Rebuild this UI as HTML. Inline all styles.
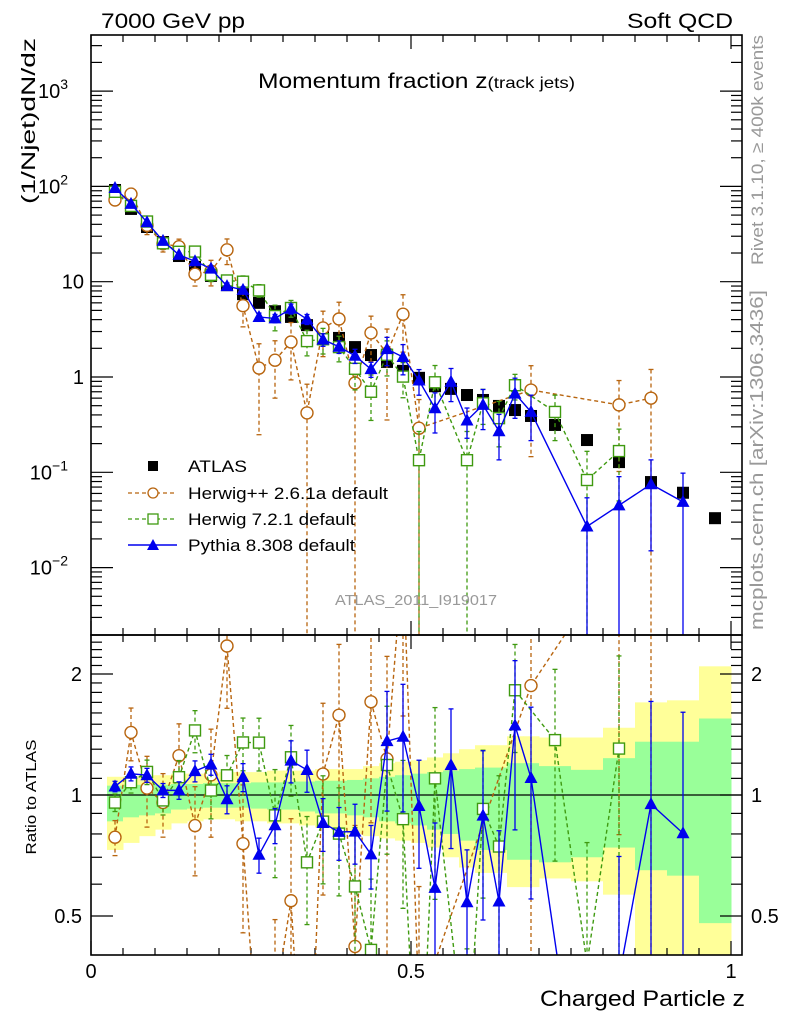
<!DOCTYPE html>
<html><head><meta charset="utf-8"><style>
html,body{margin:0;padding:0;background:#fff;width:786px;height:1024px;overflow:hidden;}
svg{display:block;font-family:"Liberation Sans",sans-serif;}
</style></head><body>
<svg id="chart" width="786" height="1024" viewBox="0 0 786 1024" xmlns="http://www.w3.org/2000/svg">
<defs>
<clipPath id="clipMain"><rect x="91" y="35" width="651" height="600"/></clipPath>
<clipPath id="clipRatio"><rect x="91" y="635" width="651" height="320"/></clipPath>
</defs>
<g id="bands" clip-path="url(#clipRatio)"></g>
<g id="ticks"></g>
<line x1="91" y1="795" x2="742" y2="795" stroke="#000" stroke-width="1.3"/>
<g id="mainMarks" clip-path="url(#clipMain)"></g>
<g id="ratioMarks" clip-path="url(#clipRatio)"></g>
<rect x="91" y="35" width="651" height="600" fill="none" stroke="#000" stroke-width="1.6"/>
<rect x="91" y="635" width="651" height="320" fill="none" stroke="#000" stroke-width="1.6"/>
<text x="101" y="28" font-size="21" textLength="144" lengthAdjust="spacingAndGlyphs">7000 GeV pp</text>
<text x="627" y="28" font-size="21" textLength="106" lengthAdjust="spacingAndGlyphs">Soft QCD</text>
<text x="258" y="88" font-size="21" textLength="317" lengthAdjust="spacingAndGlyphs">Momentum fraction z<tspan font-size="16">(track jets)</tspan></text>
<text transform="translate(35,121) rotate(-90)" font-size="19" text-anchor="middle" textLength="166" lengthAdjust="spacingAndGlyphs">(1/Njet)dN/dz</text>
<text transform="translate(36,797) rotate(-90)" font-size="15" text-anchor="middle" textLength="115" lengthAdjust="spacingAndGlyphs">Ratio to ATLAS</text>
<text x="540" y="1006" font-size="22" textLength="205" lengthAdjust="spacingAndGlyphs">Charged Particle z</text>
<text transform="translate(763,150) rotate(-90)" font-size="17" fill="#999" text-anchor="middle" textLength="230" lengthAdjust="spacingAndGlyphs">Rivet 3.1.10, ≥ 400k events</text>
<text transform="translate(763,460) rotate(-90)" font-size="18" fill="#999" text-anchor="middle" textLength="340" lengthAdjust="spacingAndGlyphs">mcplots.cern.ch [arXiv:1306.3436]</text>
<text x="335" y="605" font-size="15" fill="#999" textLength="162" lengthAdjust="spacingAndGlyphs">ATLAS_2011_I919017</text>
<g id="legend">
  <g>
    <rect x="148" y="461" width="10" height="10" fill="#000"/>
    <text x="188" y="472" font-size="17" textLength="59" lengthAdjust="spacingAndGlyphs">ATLAS</text>
  </g>
  <g>
    <line x1="128" y1="493" x2="177" y2="493" stroke="#b8650f" stroke-width="1.2" stroke-dasharray="4,3"/>
    <circle cx="153" cy="493" r="5" fill="#fff" stroke="#b8650f" stroke-width="1.3"/>
    <text x="188" y="499" font-size="17" textLength="200" lengthAdjust="spacingAndGlyphs">Herwig++ 2.6.1a default</text>
  </g>
  <g>
    <line x1="128" y1="519" x2="177" y2="519" stroke="#3f9a10" stroke-width="1.2" stroke-dasharray="4,3"/>
    <rect x="148" y="514" width="10" height="10" fill="#fff" stroke="#3f9a10" stroke-width="1.3"/>
    <text x="188" y="525" font-size="17" textLength="167" lengthAdjust="spacingAndGlyphs">Herwig 7.2.1 default</text>
  </g>
  <g>
    <line x1="128" y1="545" x2="177" y2="545" stroke="#0000ee" stroke-width="1.4"/>
    <polygon points="153,539 159,550 147,550" fill="#0000ee"/>
    <text x="188" y="551" font-size="17" textLength="167" lengthAdjust="spacingAndGlyphs">Pythia 8.308 default</text>
  </g>
</g>
</svg>
<script>
const binCenters=[0.0375,0.0625,0.0875,0.1125,0.1375,0.1625,0.1875,0.2125,0.2375,0.2625,0.2875,0.3125,0.3375,0.3625,0.3875,0.4125,0.4375,0.4625,0.4875,0.5125,0.5375,0.5625,0.5875,0.6125,0.6375,0.6625,0.6875,0.725,0.775,0.825,0.875,0.925,0.975];
const binEdges=[0.025,0.05,0.075,0.1,0.125,0.15,0.175,0.2,0.225,0.25,0.275,0.3,0.325,0.35,0.375,0.4,0.425,0.45,0.475,0.5,0.525,0.55,0.575,0.6,0.625,0.65,0.675,0.7,0.75,0.8,0.85,0.9,0.95,1.0];
const atlas=[91.7,58,37.5,26.1,18.6,14.3,11.5,9.2,7.4,6.0,4.9,4.27,3.5,2.9,2.57,2.06,1.70,1.44,1.16,0.98,0.80,0.75,0.647,0.574,0.497,0.45,0.39,0.314,0.218,0.128,0.079,0.061,0.033];
const herwigpp=[72,83,39,25,23.3,12,12.9,21.6,5.6,1.24,1.5,2.33,0.42,3.27,4.06,0.865,2.9,1.77,4.56,0.29,null,null,null,null,null,null,0.73,null,null,0.51,0.6,null,null];
const herwigppErr=[0.1,0.15,0.2,0.18,0.2,0.25,0.3,0.3,0.4,0.8,0.6,0.6,1,0.5,0.5,1,0.5,0.8,0.6,1,0,0,0,0,0,0,0.8,0,0,0.8,1,0,0];
const herwig7=[87.8,62.4,42.8,25.3,20.6,20.7,11.8,10.3,10.0,8.1,4.36,5.3,2.38,2.49,2.06,1.22,0.70,1.71,1.01,0.134,0.88,null,0.134,0.53,0.37,0.82,null,0.43,0.083,0.167,null,null,null];
const herwig7Err=[0.05,0.06,0.07,0.08,0.1,0.12,0.15,0.12,0.15,0.15,0.3,0.2,0.3,0.3,0.3,0.4,0.5,0.4,0.4,1,0.5,0,1,0.4,0.5,0.3,0,0.5,1,0.7,0,0,0];
const pythia=[96.3,65.5,42,26.8,19.1,16.4,13.7,8.98,8.2,4.26,4.12,5.2,4.04,2.47,2.08,1.67,1.21,1.96,1.62,0.92,0.47,0.89,0.35,0.51,0.27,0.67,0.43,null,0.027,0.045,0.075,0.049,null];
const pythiaErr=[0.03,0.04,0.04,0.04,0.05,0.06,0.06,0.08,0.08,0.1,0.1,0.12,0.12,0.15,0.15,0.17,0.18,0.33,0.35,0.3,0.45,0.38,0.35,0.45,0.5,0.45,0.5,0,1,1,0.8,1,0];
const greenHi=[1.055,1.06,1.06,1.06,1.065,1.065,1.07,1.07,1.07,1.075,1.075,1.08,1.08,1.085,1.085,1.09,1.10,1.11,1.12,1.13,1.14,1.15,1.16,1.17,1.17,1.20,1.20,1.18,1.155,1.235,1.357,1.357,1.55];
const greenLo=[0.86,0.88,0.89,0.90,0.92,0.925,0.93,0.93,0.93,0.925,0.92,0.92,0.91,0.90,0.90,0.89,0.88,0.86,0.85,0.84,0.82,0.80,0.77,0.73,0.73,0.69,0.69,0.68,0.70,0.74,0.65,0.63,0.48];
const yellowHi=[1.11,1.11,1.12,1.12,1.13,1.13,1.13,1.14,1.14,1.14,1.15,1.15,1.15,1.16,1.16,1.16,1.18,1.2,1.21,1.22,1.24,1.27,1.3,1.33,1.33,1.4,1.4,1.39,1.39,1.47,1.7,1.72,2.09];
const yellowLo=[0.73,0.76,0.79,0.82,0.85,0.86,0.87,0.87,0.86,0.86,0.85,0.85,0.84,0.83,0.82,0.80,0.79,0.78,0.77,0.76,0.74,0.70,0.66,0.64,0.64,0.59,0.59,0.62,0.61,0.565,0.3,0.3,0.3];
const mainTickLabels=["10","10","10","1","10","10"];
const mainTickExp=["3","2","","","−1","−2"];
const mainTickVals=[1000,100,10,1,0.1,0.01];
const ratioTickVals=[0.5,1,2];
const ratioTickLabels=["0.5","1","2"];
const xTickVals=[0,0.5,1];
const xTickLabels=["0","0.5","1"];

const NS="http://www.w3.org/2000/svg";
function xs(z){return 91+640*z;}
function ym(v){return 377-95.3*Math.log10(v);}
function yr(r){return 795-121*Math.log2(r);}
function mk(tag,attrs,parent){const e=document.createElementNS(NS,tag);for(const k in attrs)e.setAttribute(k,attrs[k]);parent.appendChild(e);return e;}

const bands=document.getElementById('bands');
for(let i=0;i<binCenters.length;i++){
  const x0=xs(binEdges[i]),x1=xs(binEdges[i+1]);
  const lowY=Math.min(yr(yellowLo[i]),955);
  const y=mk('rect',{x:x0,y:yr(yellowHi[i]),width:x1-x0+0.5,height:lowY-yr(yellowHi[i]),fill:'#ffff99'},bands);
  
  
  const g=mk('rect',{x:x0,y:yr(greenHi[i]),width:x1-x0+0.5,height:Math.min(yr(greenLo[i]),955)-yr(greenHi[i]),fill:'#99ff99'},bands);
  
  
}

const ticks=document.getElementById('ticks');
function tl(x1,y1,x2,y2){mk('line',{x1:x1,y1:y1,x2:x2,y2:y2,stroke:'#000','stroke-width':1.2},ticks);}
for(let d=-3;d<=3;d++){for(let m=1;m<=9;m++){const v=m*Math.pow(10,d);const y=ym(v);if(y<36||y>634)continue;const L=m===1?22:11;tl(91,y,91+L,y);tl(742,y,742-L,y);}}
for(let k=0;k<=20;k++){const z=k*0.05;const x=xs(z);const L=(k%10===0)?14:7;tl(x,35,x,35+L);tl(x,635,x,635-L);tl(x,635,x,635+L);tl(x,955,x,955-L);}
for(let k=4;k<=25;k++){const r=k/10;const y=yr(r);if(y<636||y>954)continue;const L=(r===0.5||r===1||r===2)?22:11;tl(91,y,91+L,y);tl(742,y,742-L,y);}
mainTickVals.forEach((v,i)=>{const t=mk('text',{x:mainTickExp[i]?68:84,y:ym(v)+7,'font-size':20,'text-anchor':'end'},ticks);t.textContent=mainTickLabels[i];
 
 
 if(mainTickExp[i]){const s=mk('tspan',{'font-size':14,dy:-9},t);s.textContent=mainTickExp[i];}});
ratioTickVals.forEach((v,i)=>{
 const t=mk('text',{x:82,y:yr(v)+7,'font-size':20,'text-anchor':'end'},ticks);t.textContent=ratioTickLabels[i];
 
 
 const t2=mk('text',{x:751,y:yr(v)+7,'font-size':20},ticks);t2.textContent=ratioTickLabels[i];
 
 });
xTickVals.forEach((v,i)=>{const t=mk('text',{x:xs(v),y:978,'font-size':20,'text-anchor':'middle'},ticks);t.textContent=xTickLabels[i];
 
 });

function drawSeries(parent,vals,errs,color,dash,marker,yf,ratio,name){
  const bottom=ratio?956:636;
  const g=mk('g',{},parent);
  
  
  const pts=[];
  for(let i=0;i<vals.length;i++){
    if(vals[i]==null)continue;
    const v=ratio?vals[i]/atlas[i]:vals[i];
    const x=xs(binCenters[i]);const y=yf(v);pts.push(x+','+y);
    const e=errs[i];
    if(e>0){const hi=yf(v*(1+e));const lo=e>=1?bottom:Math.min(yf(v*(1-e)),bottom);
      mk('line',{x1:x,y1:hi,x2:x,y2:lo,stroke:color,'stroke-width':1.3,'stroke-dasharray':dash},g);
      mk('line',{x1:x-2.5,y1:hi,x2:x+2.5,y2:hi,stroke:color,'stroke-width':1.3},g);
      if(e<1)mk('line',{x1:x-2.5,y1:lo,x2:x+2.5,y2:lo,stroke:color,'stroke-width':1.3},g);}
  }
  mk('polyline',{points:pts.join(' '),fill:'none',stroke:color,'stroke-width':1.4,'stroke-dasharray':dash},g);
  for(let i=0;i<vals.length;i++){
    if(vals[i]==null)continue;
    const v=ratio?vals[i]/atlas[i]:vals[i];
    const x=xs(binCenters[i]);const y=yf(v);
    if(y>bottom+10)continue;
    let m;
    if(marker==='circle')m=mk('circle',{cx:x,cy:y,r:6,fill:'#fff',stroke:color,'stroke-width':1.4},g);
    else if(marker==='osquare')m=mk('rect',{x:x-5.5,y:y-5.5,width:11,height:11,fill:'#fff',stroke:color,'stroke-width':1.4},g);
    else if(marker==='tri')m=mk('polygon',{points:(x)+','+(y-7)+' '+(x+6.5)+','+(y+5)+' '+(x-6.5)+','+(y+5),fill:color},g);
    else m=mk('rect',{x:x-6,y:y-6,width:12,height:12,fill:color},g);
    
    
  }
}
const mainG=document.getElementById('mainMarks');
const ratioG=document.getElementById('ratioMarks');
const atlasG=mk('g',{},mainG);


for(let i=0;i<atlas.length;i++){const r=mk('rect',{x:xs(binCenters[i])-6,y:ym(atlas[i])-6,width:12,height:12,fill:'#000'},atlasG);
 
 }
drawSeries(mainG,herwigpp,herwigppErr,'#b8650f','4,3','circle',ym,false,'herwigpp-series');
drawSeries(mainG,herwig7,herwig7Err,'#3f9a10','4,3','osquare',ym,false,'herwig7-series');
drawSeries(mainG,pythia,pythiaErr,'#0000ee','none','tri',ym,false,'pythia-series');
drawSeries(ratioG,herwigpp,herwigppErr,'#b8650f','4,3','circle',yr,true,'herwigpp-ratio');
drawSeries(ratioG,herwig7,herwig7Err,'#3f9a10','4,3','osquare',yr,true,'herwig7-ratio');
drawSeries(ratioG,pythia,pythiaErr,'#0000ee','none','tri',yr,true,'pythia-ratio');
</script>
</body></html>
